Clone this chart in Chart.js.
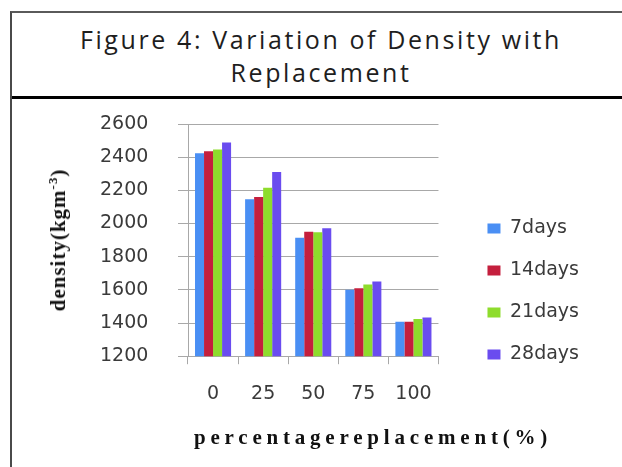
<!DOCTYPE html>
<html>
<head>
<meta charset="utf-8">
<script src="https://cdn.jsdelivr.net/npm/chart.js@4"></script>
<style>
  body { margin: 0; width: 622px; height: 467px; overflow: hidden; background: #fff; position: relative; }
  #frame { position: absolute; left: 10px; top: 11px; width: 700px; height: 500px;
           border-left: 2px solid #4a4a4a; border-top: 2px solid #5a5a5a; }
  #divider { position: absolute; left: 12px; top: 96px; width: 610px; height: 3px; background: #000; }
  #title { position: absolute; left: 12px; top: 23px; width: 618px; text-align: center;
           font: 25px "Open Sans", sans-serif; line-height: 33px; letter-spacing: 2.6px; color: #1e1e1e; }
  #chartBox { position: absolute; left: 0; top: 98px; width: 622px; height: 369px; }
  #chartBox canvas { display: block; }
  .axisTitle { position: absolute; font-family: "Liberation Serif", serif; font-weight: bold; color: #111; white-space: nowrap; }
  #xTitle { left: 373px; top: 437px; transform: translate(-50%, -50%); font-size: 21px; letter-spacing: 4.8px; }
  #yTitle { left: 58px; top: 240px; transform: translate(-50%, -50%) rotate(-90deg); font-size: 21px; letter-spacing: 1px; }
  #yTitle sup { font-size: 13px; }
</style>
</head>
<body>
<div id="frame"></div>
<div id="divider"></div>
<div id="title">Figure 4: Variation of Density with<br>Replacement</div>
<div id="chartBox"><canvas id="myChart" width="622" height="369"></canvas></div>
<div class="axisTitle" id="yTitle">density(kgm<sup>-3</sup>)</div>
<div class="axisTitle" id="xTitle">percentagereplacement(%)</div>
<script>
const categories = ["0", "25", "50", "75", "100"];
const days7 = [2424, 2146, 1914, 1601, 1408];
const days14 = [2435, 2160, 1950, 1610, 1408];
const days21 = [2447, 2215, 1948, 1632, 1424];
const days28 = [2489, 2310, 1971, 1650, 1434];
const seriesNames = ["7days", "14days", "21days", "28days"];
const seriesColors = ["#4a8ff4", "#c41f3d", "#8edc2c", "#6a4cef"];

const tickFont = { family: "'DejaVu Sans', sans-serif", size: 19 };
const textColor = "#3a3a3a";
const gridColor = "#a8a8a8";

const ctx = document.getElementById("myChart").getContext("2d");

new Chart(ctx, {
  type: "bar",
  data: {
    labels: categories,
    datasets: [days7, days14, days21, days28].map((values, i) => ({
      label: seriesNames[i],
      data: values,
      backgroundColor: seriesColors[i],
    })),
  },
  options: {
    responsive: false,
    animation: false,
    layout: { padding: { top: 26, bottom: 44, left: 100, right: 33 } },
    datasets: { bar: { categoryPercentage: 0.72, barPercentage: 1 } },
    plugins: {
      tooltip: { enabled: false },
      legend: {
        position: "right",
        align: "start",
        maxWidth: 200,
        // empty title only pushes the entries down
        title: { display: true, text: "", font: { size: 10 }, padding: { top: 60, bottom: 0 } },
        labels: { boxWidth: 13, boxHeight: 10, padding: 23, font: tickFont, color: textColor },
      },
    },
    scales: {
      x: {
        offset: true,
        grid: { offset: true, drawOnChartArea: false, tickLength: 8, color: gridColor },
        border: { color: gridColor },
        ticks: { font: tickFont, color: textColor, padding: 18 },
      },
      y: {
        min: 1200,
        max: 2600,
        ticks: { stepSize: 200, font: tickFont, color: textColor, crossAlign: "far", format: { useGrouping: false } },
        grid: { color: gridColor, tickLength: 10 },
        border: { color: gridColor },
        afterFit(scale) { scale.width = 88; },
      },
      // empty axis that only keeps the gap between plot and legend
      gap: {
        type: "linear",
        axis: "y",
        position: "right",
        grid: { display: false },
        border: { display: false },
        ticks: { display: false },
        afterFit(scale) { scale.width = 26; },
      },
    },
  },
});
</script>
</body>
</html>
